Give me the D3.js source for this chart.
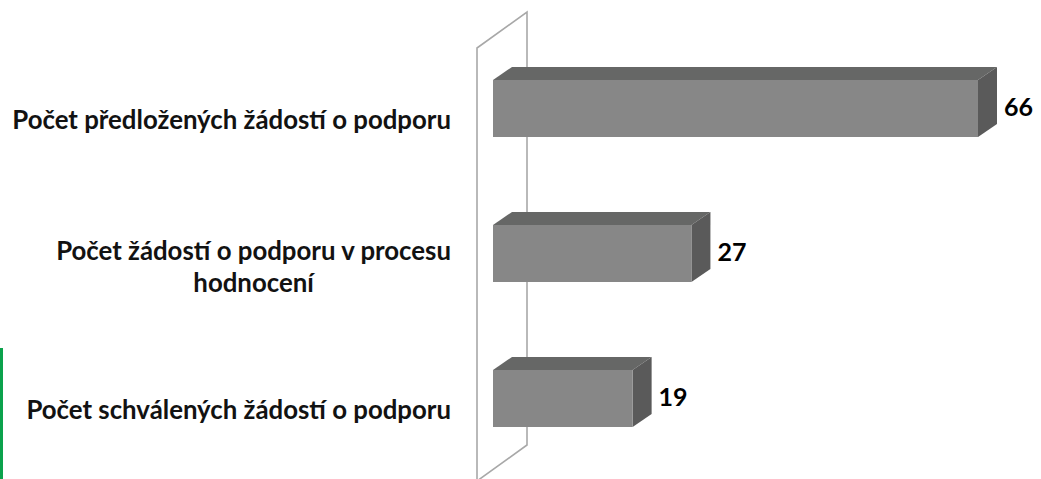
<!DOCTYPE html>
<html lang="cs">
<head>
    <meta charset="UTF-8">
    <title>Počet žádostí o podporu</title>
    <style>
        html, body {
            margin: 0;
            padding: 0;
            background: #ffffff;
        }
        svg {
            display: block;
        }
    </style>
    <script src="https://cdn.jsdelivr.net/npm/d3@7"></script>
</head>
<body>
    <svg id="chart" width="1041" height="479"></svg>

    <script>
        // data
        const categories = [
            ["Počet předložených žádostí o podporu"],
            ["Počet žádostí o podporu v procesu", "hodnocení"],
            ["Počet schválených žádostí o podporu"]
        ];
        const values = [66, 27, 19];

        const svg = d3.select("#chart");
        const labelFont = "Lato, 'Open Sans', sans-serif";

        const x = d3.scaleLinear().domain([0, 66]).range([493, 978]);
        const y = d3.scalePoint().domain(d3.range(values.length)).range([108.5, 398.5]);
        const barH = 57;
        const dx = 19, dy = -13;      // bar depth
        const wdx = 50, wdy = -36;    // wall depth

        // green strip at the left edge
        svg.append("rect")
            .attr("x", 0).attr("y", 348)
            .attr("width", 3).attr("height", 131)
            .attr("fill", "#0ba24c");

        // back wall (side panel)
        const wallX = 477, wallTop = 48, wallBottom = 481;
        svg.append("path")
            .attr("d", `M${wallX},${wallBottom + 40} L${wallX},${wallTop} L${wallX + wdx},${wallTop + wdy} L${wallX + wdx},${wallBottom + wdy} L${wallX},${wallBottom}`)
            .attr("fill", "none")
            .attr("stroke", "#a8a8a8")
            .attr("stroke-width", 1.6);

        // 3D bars
        const bars = svg.append("g").selectAll("g")
            .data(values)
            .join("g");

        const x0 = x(0);
        bars.append("path") // top face
            .attr("d", (d, i) => {
                const t = y(i) - barH / 2;
                return `M${x0},${t} L${x0 + dx},${t + dy} L${x(d) + dx},${t + dy} L${x(d)},${t} Z`;
            })
            .attr("fill", "#666766");

        bars.append("path") // side face
            .attr("d", (d, i) => {
                const t = y(i) - barH / 2;
                return `M${x(d)},${t} L${x(d) + dx},${t + dy} L${x(d) + dx},${t + barH + dy} L${x(d)},${t + barH} Z`;
            })
            .attr("fill", "#5a5a5a");

        bars.append("rect") // front face
            .attr("x", x0)
            .attr("y", (d, i) => y(i) - barH / 2)
            .attr("width", d => x(d) - x0)
            .attr("height", barH)
            .attr("fill", "#878787");

        // value labels
        bars.append("text")
            .attr("x", d => x(d) + dx + 7)
            .attr("y", (d, i) => y(i) + 1.5)
            .attr("dominant-baseline", "middle")
            .attr("font-family", labelFont)
            .attr("font-weight", "bold")
            .attr("font-size", 25)
            .attr("fill", "#000")
            .text(d => d);

        // category labels, right aligned, wrapped lines centred under the first
        const labelRight = 451;
        const lineH = 32;
        categories.forEach((lines, i) => {
            const base = lines.length > 1 ? y(i) + 6.5 : y(i) + 20;
            let firstW = 0;
            lines.forEach((line, j) => {
                const t = svg.append("text")
                    .attr("y", base + j * lineH)
                    .attr("font-family", labelFont)
                    .attr("font-weight", "bold")
                    .attr("font-size", 25.8)
                    .attr("fill", "#121212")
                    .text(line);
                if (j === 0) {
                    firstW = t.node().getComputedTextLength();
                    t.attr("x", labelRight).attr("text-anchor", "end");
                } else {
                    t.attr("x", labelRight - firstW / 2).attr("text-anchor", "middle");
                }
            });
        });
    </script>
</body>
</html>
